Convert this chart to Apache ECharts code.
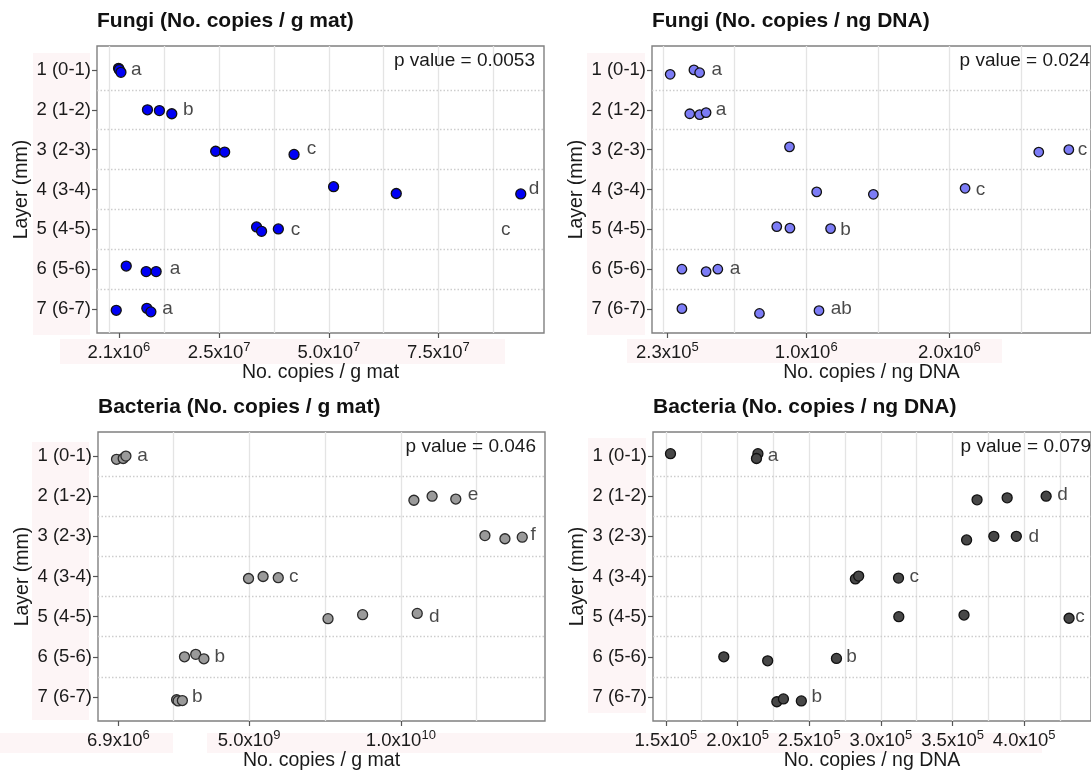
<!DOCTYPE html>
<html>
<head>
<meta charset="utf-8">
<script src="https://cdn.jsdelivr.net/npm/echarts@6/dist/echarts.min.js"></script>
<style>
html,body{margin:0;padding:0;background:#fff;}
#c{width:1091px;height:772px;}
</style>
</head>
<body>
<div id="c"></div>
<script>
// ---------- shared ----------
const layerTicks = [1, 2, 3, 4, 5, 6, 7];
const layerLabels = ['1 (0-1)', '2 (1-2)', '3 (2-3)', '4 (3-4)', '5 (4-5)', '6 (5-6)', '7 (6-7)'];
const layerBoundaries = [1.5, 2.5, 3.5, 4.5, 5.5, 6.5];
const yAxisName = 'Layer (mm)';

// ---------- Panel A: Fungi per g mat ----------
const fungiMatTitle = 'Fungi (No. copies / g mat)';
const fungiMatXName = 'No. copies / g mat';
const fungiMatP = 'p value = 0.0053';
const fungiMatX = [2.05e6, 2.2e6, 2.59e6, 8.64e6, 11.37e6, 14.19e6, 24.2e6, 26.25e6, 42.08e6,
  51.1e6, 65.4e6, 93.8e6, 33.53e6, 34.67e6, 38.5e6, 3.8e6, 8.35e6, 10.62e6, 1.52e6, 8.5e6, 9.42e6];
const fungiMatLayer = [0.96, 0.99, 1.06, 2.0, 2.02, 2.1, 3.04, 3.06, 3.12,
  3.93, 4.1, 4.11, 4.94, 5.05, 4.99, 5.92, 6.06, 6.06, 7.03, 6.98, 7.07];
const fungiMatLetters = ['a', 'b', 'c', 'd', 'c', 'c', 'a', 'a'];
const fungiMatLetterX = [6.07e6, 17.97e6, 46.04e6, 96.84e6, 42.4e6, 90.4e6, 14.95e6, 13.2e6];
const fungiMatLetterLayer = [1.0, 2.0, 2.98, 3.98, 5.0, 5.0, 6.0, 7.0];
const fungiMatTickValues = [2.1e6, 2.5e7, 5.0e7, 7.5e7];
const fungiMatTickLabels = ['2.1x10^6', '2.5x10^7', '5.0x10^7', '7.5x10^7'];
const fungiMatGridValues = [0, 1.25e7, 2.5e7, 3.75e7, 5.0e7, 6.25e7, 7.5e7, 8.75e7];
const fungiMatRange = [-2.87e6, 9.91e7];

// ---------- Panel B: Fungi per ng DNA ----------
const fungiDnaTitle = 'Fungi (No. copies / ng DNA)';
const fungiDnaXName = 'No. copies / ng DNA';
const fungiDnaP = 'p value = 0.024';
const fungiDnaX = [0.049e6, 0.215e6, 0.255e6, 0.186e6, 0.255e6, 0.300e6, 0.883e6, 2.625e6, 2.835e6,
  1.073e6, 1.469e6, 2.11e6, 0.794e6, 0.886e6, 1.17e6, 0.131e6, 0.300e6, 0.382e6, 0.131e6, 0.673e6, 1.089e6];
const fungiDnaLayer = [1.11, 1.0, 1.07, 2.1, 2.12, 2.07, 2.93, 3.06, 3.0,
  4.06, 4.12, 3.97, 4.93, 4.97, 4.98, 6.0, 6.06, 6.0, 6.99, 7.11, 7.04];
const fungiDnaLetters = ['a', 'a', 'c', 'c', 'b', 'a', 'ab'];
const fungiDnaLetterX = [0.375e6, 0.405e6, 2.93e6, 2.218e6, 1.275e6, 0.502e6, 1.245e6];
const fungiDnaLetterLayer = [1.0, 2.0, 3.0, 4.0, 5.0, 6.0, 7.0];
const fungiDnaTickValues = [0.03e6, 1.0e6, 2.0e6];
const fungiDnaTickLabels = ['2.3x10^5', '1.0x10^6', '2.0x10^6'];
const fungiDnaGridValues = [0, 0.5e6, 1.0e6, 1.5e6, 2.0e6, 2.5e6];
const fungiDnaRange = [-0.078e6, 2.99e6];

// ---------- Panel C: Bacteria per g mat ----------
const bactMatTitle = 'Bacteria (No. copies / g mat)';
const bactMatXName = 'No. copies / g mat';
const bactMatP = 'p value = 0.046';
const bactMatX = [0.63e9, 0.85e9, 0.94e9, 10.43e9, 11.03e9, 11.81e9, 12.77e9, 13.43e9, 14.0e9,
  4.98e9, 5.46e9, 5.96e9, 7.6e9, 8.74e9, 10.54e9, 2.87e9, 3.24e9, 3.51e9, 2.61e9, 2.66e9, 2.8e9];
const bactMatLayer = [1.08, 1.06, 1.0, 2.1, 2.0, 2.07, 2.98, 3.06, 3.02,
  4.05, 4.0, 4.03, 5.05, 4.95, 4.92, 6.0, 5.94, 6.05, 7.07, 7.1, 7.09];
const bactMatLetters = ['a', 'e', 'f', 'c', 'd', 'b', 'b'];
const bactMatLetterX = [1.49e9, 12.38e9, 14.36e9, 6.47e9, 11.1e9, 4.03e9, 3.29e9];
const bactMatLetterLayer = [0.98, 1.96, 2.95, 4.0, 5.0, 6.0, 7.0];
const bactMatTickValues = [0.69e9, 5.0e9, 10.0e9];
const bactMatTickLabels = ['6.9x10^6', '5.0x10^9', '1.0x10^10'];
const bactMatGridValues = [2.5e9, 5.0e9, 7.5e9, 10.0e9, 12.5e9];
const bactMatRange = [0.02e9, 14.75e9];

// ---------- Panel D: Bacteria per ng DNA ----------
const bactDnaTitle = 'Bacteria (No. copies / ng DNA)';
const bactDnaXName = 'No. copies / ng DNA';
const bactDnaP = 'p value = 0.079';
const bactDnaX = [1.532e5, 2.142e5, 2.132e5, 3.671e5, 3.881e5, 4.153e5, 3.598e5, 3.788e5, 3.945e5,
  2.822e5, 2.845e5, 3.123e5, 3.125e5, 3.58e5, 4.313e5, 1.904e5, 2.21e5, 2.69e5, 2.274e5, 2.32e5, 2.445e5];
const bactDnaLayer = [0.94, 0.94, 1.06, 2.09, 2.04, 2.0, 3.09, 3.0, 3.0,
  4.06, 3.99, 4.04, 5.0, 4.96, 5.04, 6.0, 6.1, 6.04, 7.12, 7.05, 7.1];
const bactDnaLetters = ['a', 'd', 'd', 'c', 'c', 'b', 'b'];
const bactDnaLetterX = [2.247e5, 4.267e5, 4.066e5, 3.233e5, 4.39e5, 2.795e5, 2.553e5];
const bactDnaLetterLayer = [1.0, 1.96, 3.0, 4.0, 5.0, 6.0, 7.0];
const bactDnaTickValues = [1.5e5, 2.0e5, 2.5e5, 3.0e5, 3.5e5, 4.0e5];
const bactDnaTickLabels = ['1.5x10^5', '2.0x10^5', '2.5x10^5', '3.0x10^5', '3.5x10^5', '4.0x10^5'];
const bactDnaGridValues = [1.5e5, 1.75e5, 2.0e5, 2.25e5, 2.5e5, 2.75e5, 3.0e5, 3.25e5, 3.5e5, 3.75e5, 4.0e5, 4.25e5];
const bactDnaRange = [1.41e5, 4.466e5];

// ---------- build ----------
const FONT = '"Liberation Sans", Arial, Helvetica, sans-serif';
const TXT = '#1a1a1a';

const panels = [
  { title: fungiMatTitle, xName: fungiMatXName, p: fungiMatP, x: fungiMatX, layer: fungiMatLayer,
    letters: fungiMatLetters, letterX: fungiMatLetterX, letterLayer: fungiMatLetterLayer,
    tickValues: fungiMatTickValues, tickLabels: fungiMatTickLabels, gridValues: fungiMatGridValues, range: fungiMatRange,
    box: { l: 97, t: 46, w: 447, h: 287 }, color: '#0000f5', border: '#111', size: 10 },
  { title: fungiDnaTitle, xName: fungiDnaXName, p: fungiDnaP, x: fungiDnaX, layer: fungiDnaLayer,
    letters: fungiDnaLetters, letterX: fungiDnaLetterX, letterLayer: fungiDnaLetterLayer,
    tickValues: fungiDnaTickValues, tickLabels: fungiDnaTickLabels, gridValues: fungiDnaGridValues, range: fungiDnaRange,
    box: { l: 652, t: 46, w: 447, h: 287 }, color: '#7c7cf6', border: '#111', size: 9.5 },
  { title: bactMatTitle, xName: bactMatXName, p: bactMatP, x: bactMatX, layer: bactMatLayer,
    letters: bactMatLetters, letterX: bactMatLetterX, letterLayer: bactMatLetterLayer,
    tickValues: bactMatTickValues, tickLabels: bactMatTickLabels, gridValues: bactMatGridValues, range: bactMatRange,
    box: { l: 98, t: 432, w: 447, h: 289 }, color: '#9a9a9a', border: '#2a2a2a', size: 10 },
  { title: bactDnaTitle, xName: bactDnaXName, p: bactDnaP, x: bactDnaX, layer: bactDnaLayer,
    letters: bactDnaLetters, letterX: bactDnaLetterX, letterLayer: bactDnaLetterLayer,
    tickValues: bactDnaTickValues, tickLabels: bactDnaTickLabels, gridValues: bactDnaGridValues, range: bactDnaRange,
    box: { l: 653, t: 432, w: 447, h: 289 }, color: '#474747', border: '#111', size: 10 }
];

function sup(str) {
  const i = str.indexOf('^');
  return '{b|' + str.slice(0, i) + '}{s|' + str.slice(i + 1) + '}';
}

const grids = [], xAxes = [], yAxes = [], series = [], titles = [];
const W = 1091;

panels.forEach((cfg, idx) => {
  const b = cfg.box;
  grids.push({ left: b.l, top: b.t, width: b.w, height: b.h, show: true, z: 0,
    borderColor: '#808080', borderWidth: 1.4, backgroundColor: 'rgba(0,0,0,0)' });
  xAxes.push({
    type: 'value', gridIndex: idx, min: cfg.range[0], max: cfg.range[1],
    name: cfg.xName, nameLocation: 'middle', nameGap: 29,
    nameTextStyle: { fontSize: 19.5, color: TXT, fontFamily: FONT },
    axisLine: { show: false, onZero: false }, splitLine: { show: false },
    axisTick: { show: true, customValues: cfg.tickValues, length: 5, lineStyle: { color: '#555', width: 1.2 } },
    axisLabel: {
      customValues: cfg.tickValues, margin: 8, hideOverlap: false, showMinLabel: true, showMaxLabel: true,
      formatter: function (v) {
        let k = 0, best = Infinity;
        cfg.tickValues.forEach((t, j) => { const d = Math.abs(t - v); if (d < best) { best = d; k = j; } });
        return sup(cfg.tickLabels[k]);
      },
      rich: {
        b: { fontSize: 18.5, color: TXT, fontFamily: FONT, verticalAlign: 'bottom' },
        s: { fontSize: 13, color: TXT, fontFamily: FONT, verticalAlign: 'bottom', padding: [0, 0, 8, 0] }
      }
    }
  });
  yAxes.push({
    type: 'value', gridIndex: idx, inverse: true, min: 0.4, max: 7.6,
    name: yAxisName, nameLocation: 'middle', nameGap: 65,
    nameTextStyle: { fontSize: 19.5, color: TXT, fontFamily: FONT },
    axisLine: { show: false, onZero: false }, splitLine: { show: false },
    axisTick: { show: true, customValues: layerTicks, length: 5, lineStyle: { color: '#555', width: 1.2 } },
    axisLabel: {
      customValues: layerTicks, margin: 6, fontSize: 18.5, color: TXT, fontFamily: FONT,
      showMinLabel: true, showMaxLabel: true,
      formatter: v => layerLabels[Math.round(v) - 1]
    }
  });
  // grid lines (drawn through the axes' scales), kept beneath the points
  series.push({
    type: 'scatter', xAxisIndex: idx, yAxisIndex: idx, data: [], z: 1, silent: true,
    markLine: {
      z: 1, silent: true, symbol: ['none', 'none'], label: { show: false }, animation: false,
      data: cfg.gridValues.map(v => ({ xAxis: v, lineStyle: { color: '#e4e4e4', width: 1.3, type: 'solid' } }))
        .concat(layerBoundaries.map(v => ({ yAxis: v, lineStyle: { color: '#cdcdcd', width: 1.4, type: [1.5, 2] } })))
    }
  });
  // points
  series.push({
    type: 'scatter', xAxisIndex: idx, yAxisIndex: idx, z: 6, symbol: 'circle', symbolSize: cfg.size,
    itemStyle: { color: cfg.color, borderColor: cfg.border, borderWidth: 1.3, opacity: 1 },
    data: cfg.x.map((v, i) => [v, cfg.layer[i]])
  });
  // group letters
  series.push({
    type: 'scatter', xAxisIndex: idx, yAxisIndex: idx, z: 7, symbolSize: 0, silent: true, clip: false,
    label: { show: true, position: 'inside', formatter: '{b}', fontSize: 19, color: TXT, fontFamily: FONT },
    data: cfg.letterX.map((v, i) => ({ name: cfg.letters[i], value: [v, cfg.letterLayer[i]] }))
  });
  titles.push({ text: cfg.title, left: b.l, top: b.t - 35, padding: 0,
    textStyle: { fontSize: 21, fontWeight: 'bold', color: '#111', fontFamily: FONT } });
  titles.push({ text: cfg.p, right: W - (b.l + b.w) + 9, top: b.t + 5, padding: 0,
    textStyle: { fontSize: 19, fontWeight: 'normal', color: TXT, fontFamily: FONT } });
});

const pink = '#fdf5f6';
const graphic = [
  { type: 'rect', shape: { x: 33, y: 53, width: 57, height: 282 }, style: { fill: pink }, z: -10 },
  { type: 'rect', shape: { x: 587, y: 53, width: 58, height: 282 }, style: { fill: pink }, z: -10 },
  { type: 'rect', shape: { x: 32, y: 442, width: 57, height: 278 }, style: { fill: pink }, z: -10 },
  { type: 'rect', shape: { x: 588, y: 438, width: 58, height: 275 }, style: { fill: pink }, z: -10 },
  { type: 'rect', shape: { x: 60, y: 339, width: 445, height: 25 }, style: { fill: pink }, z: -10 },
  { type: 'rect', shape: { x: 627, y: 339, width: 375, height: 24 }, style: { fill: pink }, z: -10 },
  { type: 'rect', shape: { x: 0, y: 733, width: 173, height: 20 }, style: { fill: pink }, z: -10 },
  { type: 'rect', shape: { x: 207, y: 733, width: 835, height: 20 }, style: { fill: pink }, z: -10 }
];

const chart = echarts.init(document.getElementById('c'), null, { renderer: 'canvas' });
chart.setOption({
  backgroundColor: '#ffffff',
  animation: false,
  title: titles,
  grid: grids,
  xAxis: xAxes,
  yAxis: yAxes,
  series: series,
  graphic: graphic
});
</script>
</body>
</html>
